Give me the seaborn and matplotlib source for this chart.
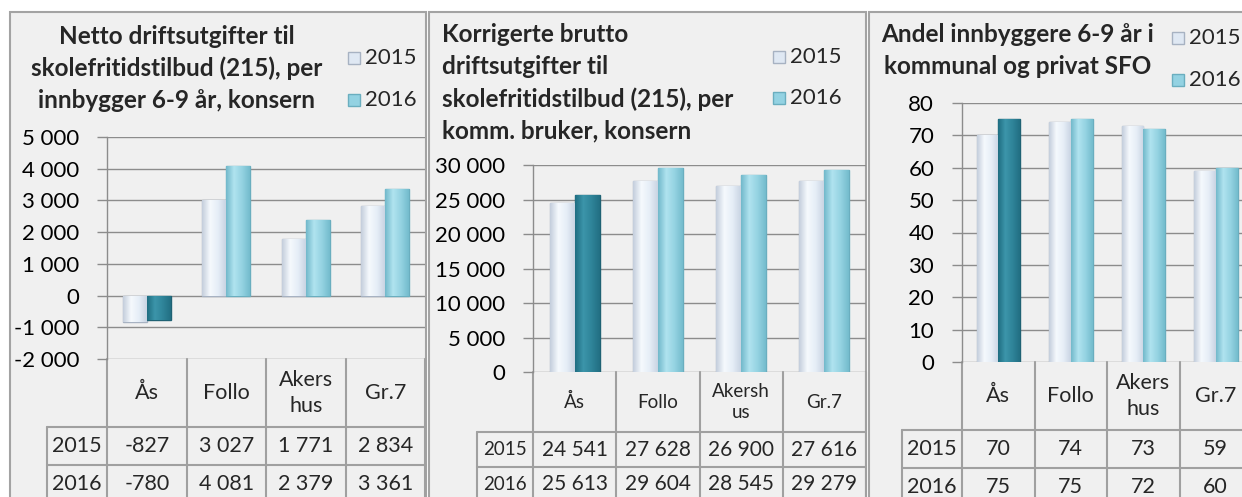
import numpy as np
import pandas as pd
import matplotlib
matplotlib.use("Agg")
import matplotlib.pyplot as plt
import seaborn as sns
from matplotlib.patches import Rectangle
from matplotlib.colors import LinearSegmentedColormap
from matplotlib.ticker import FuncFormatter, MultipleLocator

sns.set_theme(style="white")
plt.rcParams['font.family'] = ['Lato', 'DejaVu Sans']

# data
regions = ["Ås", "Follo", "Akershus", "Gr.7"]
years = ["2015", "2016"]

netto_2015 = [-827, 3027, 1771, 2834]
netto_2016 = [-780, 4081, 2379, 3361]
brutto_2015 = [24541, 27628, 26900, 27616]
brutto_2016 = [25613, 29604, 28545, 29279]
andel_2015 = [70, 74, 73, 59]
andel_2016 = [75, 75, 72, 60]

header_a = ["Ås", "Follo", "Akers\nhus", "Gr.7"]
header_b = ["Ås", "Follo", "Akersh\nus", "Gr.7"]

title_1 = ["Netto driftsutgifter til", "skolefritidstilbud (215), per", "innbygger 6-9 år, konsern"]
title_2 = ["Korrigerte brutto", "driftsutgifter til", "skolefritidstilbud (215), per", "komm. bruker, konsern"]
title_3 = ["Andel innbyggere 6-9 år i", "kommunal og privat SFO"]

# colours
c15, c15_edge = "#dfe8f3", "#a7b2c2"
c16, c16_edge = "#93d2e2", "#6aaebf"
c16_as, c16_as_edge = "#2f8499", "#1f6274"
grad15 = LinearSegmentedColormap.from_list("g15", ["#c4cedc", "#f5f9fd", "#e6eef7", "#c9d4e3"])
grad16 = LinearSegmentedColormap.from_list("g16", ["#72b9cb", "#b0e3ef", "#95d3e2", "#74bccd"])
grad_as = LinearSegmentedColormap.from_list("gas", ["#1f6e82", "#3c95aa", "#2f8499", "#226f83"])
frame_fill, frame_edge = "#f0f0f0", "#a3a3a3"
grid_col = "#8c8c8c"
line_col = "#a0a0a0"

W, H = 1242, 497
fig = plt.figure(figsize=(W / 100, H / 100), dpi=100)
fig.patch.set_facecolor("white")

ov = fig.add_axes([0, 0, 1, 1], zorder=0)
ov.set_xlim(0, W)
ov.set_ylim(H, 0)
ov.axis("off")


def fmt(v):
    return f"{int(round(v)):,}".replace(",", " ")


def shade(ax, bar, cmap):
    # horizontal gradient clipped to the bar for the bevelled Excel look
    x0, y0 = bar.get_x(), bar.get_y()
    w, h = bar.get_width(), bar.get_height()
    grad = np.linspace(0, 1, 64).reshape(1, -1)
    im = ax.imshow(grad, cmap=cmap, aspect="auto", extent=(x0, x0 + w, y0, y0 + h),
                   origin="lower", zorder=3.5)
    im.set_clip_path(bar)


panels = [
    dict(frame=(10, 12, 426, 520), box=(107, 425, 137, 359), lim=(-2000, 5000), step=1000,
         s15=netto_2015, s16=netto_2016, header=header_a, label_left=47, rows=(427, 465, 503),
         title=title_1, title_x=177, title_ha="center", title_y=[36, 68, 101],
         leg_x=348, leg_y=(58, 100), tfs=15.5, hfs=15.5),
    dict(frame=(429, 12, 866, 520), box=(533, 866, 165, 372), lim=(0, 30000), step=5000,
         s15=brutto_2015, s16=brutto_2016, header=header_b, label_left=477, rows=(432, 467, 502),
         title=title_2, title_x=442, title_ha="left", title_y=[35, 67, 99, 131],
         leg_x=773, leg_y=(57, 98), tfs=15, hfs=13.5),
    dict(frame=(869, 12, 1270, 520), box=(962, 1252, 103, 362), lim=(0, 80), step=10,
         s15=andel_2015, s16=andel_2016, header=header_a, label_left=902, rows=(430, 468, 506),
         title=title_3, title_x=1018, title_ha="center", title_y=[35, 66],
         leg_x=1172, leg_y=(38, 80), tfs=15.5, hfs=15.5),
]

for p in panels:
    fx0, fy0, fx1, fy1 = p["frame"]
    ov.add_patch(Rectangle((fx0, fy0), fx1 - fx0, fy1 - fy0, facecolor=frame_fill,
                           edgecolor=frame_edge, lw=1.5, zorder=0))

    left, right, top, bottom = p["box"]
    ax = fig.add_axes([left / W, (H - bottom) / H, (right - left) / W, (bottom - top) / H], zorder=1)
    ax.set_facecolor("none")

    df = pd.DataFrame({
        "region": regions * 2,
        "year": [years[0]] * 4 + [years[1]] * 4,
        "value": list(p["s15"]) + list(p["s16"]),
    })
    sns.barplot(data=df, x="region", y="value", hue="year", palette=[c15, c16],
                width=0.6, errorbar=None, legend=False, ax=ax, zorder=3)
    for bar in ax.containers[0]:
        bar.set_edgecolor(c15_edge)
        bar.set_linewidth(1)
        shade(ax, bar, grad15)
    for i, bar in enumerate(ax.containers[1]):
        if i == 0:
            bar.set_facecolor(c16_as)
            bar.set_edgecolor(c16_as_edge)
            shade(ax, bar, grad_as)
        else:
            bar.set_edgecolor(c16_edge)
            shade(ax, bar, grad16)
        bar.set_linewidth(1)

    ax.set_xlim(-0.5, 3.5)
    ax.set_ylim(*p["lim"])
    ax.yaxis.set_major_locator(MultipleLocator(p["step"]))
    ax.yaxis.set_major_formatter(FuncFormatter(lambda v, _: fmt(v)))
    ax.set_xticks([])
    ax.set_xlabel("")
    ax.set_ylabel("")
    ax.yaxis.grid(True, color=grid_col, lw=1)
    ax.set_axisbelow(True)
    for s in ["top", "right", "bottom"]:
        ax.spines[s].set_visible(False)
    ax.spines["left"].set_color(grid_col)
    ax.spines["left"].set_linewidth(1)
    ax.tick_params(axis="y", left=True, length=7, width=1, color=grid_col,
                   labelsize=16, pad=13, labelcolor="black")

    # data table under the plot
    edges = [left + i * (right - left) / 4 for i in range(5)]
    r0, r1, r2 = p["rows"]
    for x in edges:
        ov.plot([x, x], [bottom, r2], color=line_col, lw=1.5, zorder=2)
    ov.plot([p["label_left"]] * 2, [r0, r2], color=line_col, lw=1.5, zorder=2)
    for y in p["rows"]:
        ov.plot([p["label_left"], right], [y, y], color=line_col, lw=1.5, zorder=2)
    for i, lab in enumerate(p["header"]):
        ov.text((edges[i] + edges[i + 1]) / 2, (bottom + r0) / 2, lab, ha="center", va="center",
                fontsize=p["hfs"], linespacing=1.35, zorder=3)
    for yr, vals, ya, yb in [(years[0], p["s15"], r0, r1), (years[1], p["s16"], r1, r2)]:
        ov.text((p["label_left"] + left) / 2, (ya + yb) / 2, yr, ha="center", va="center",
                fontsize=p["hfs"], zorder=3)
        for i, v in enumerate(vals):
            ov.text((edges[i] + edges[i + 1]) / 2, (ya + yb) / 2, fmt(v), ha="center",
                    va="center", fontsize=p["tfs"], zorder=3)

    # title
    for line, y in zip(p["title"], p["title_y"]):
        ov.text(p["title_x"], y, line, ha=p["title_ha"], va="center", fontsize=17.5,
                fontweight="bold", zorder=3)

    # legend
    for yr, y, fc, ec in [(years[0], p["leg_y"][0], c15, c15_edge), (years[1], p["leg_y"][1], c16, c16_edge)]:
        ov.add_patch(Rectangle((p["leg_x"], y - 6), 12, 12, facecolor=fc, edgecolor=ec, lw=1, zorder=3))
        ov.text(p["leg_x"] + 17, y, yr, ha="left", va="center", fontsize=16, zorder=3)

fig.savefig("out.png", dpi=100, facecolor="white")
